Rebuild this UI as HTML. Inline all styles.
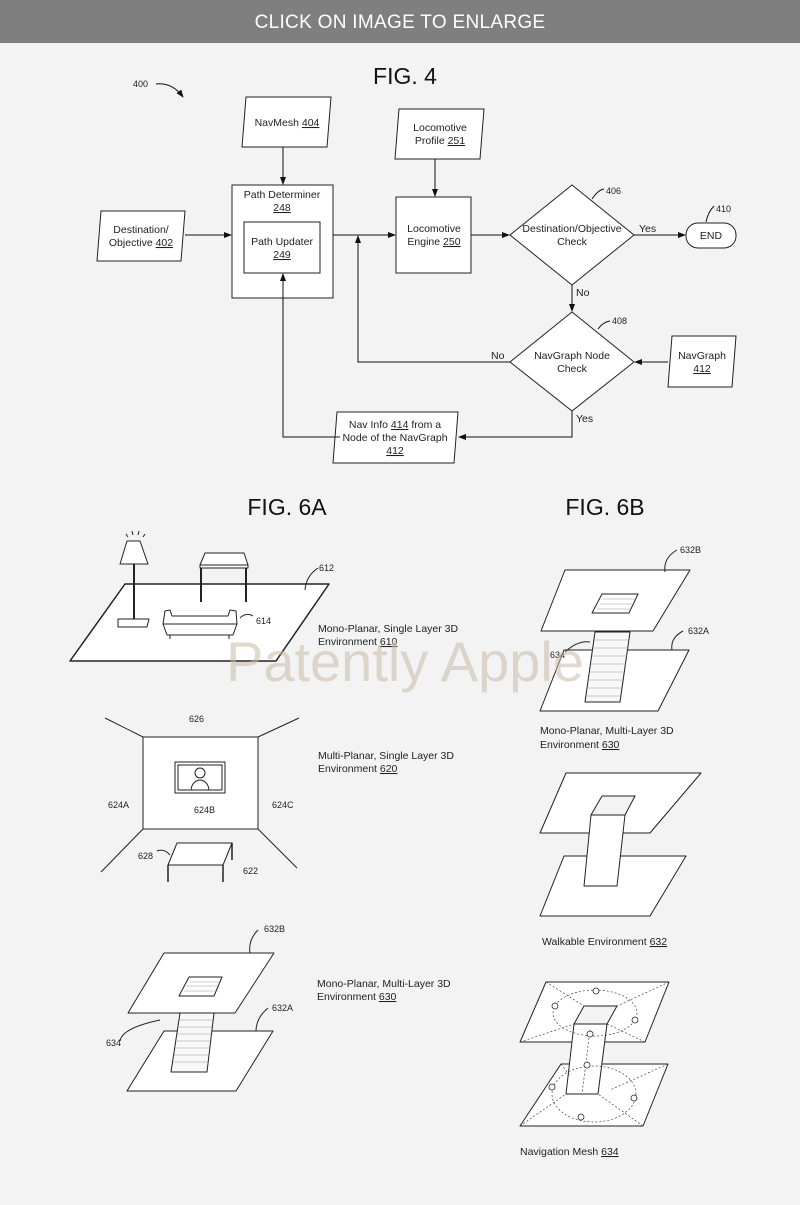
<!DOCTYPE html>
<html><head><meta charset="utf-8"><style>
html,body{margin:0;padding:0;background:#f3f3f3}
svg{display:block}
text{font-family:"Liberation Sans",Arial,sans-serif;fill:#222}
.l{font-size:10.5px}
.s{font-size:9px}
.f{font-size:23px;fill:#111}
</style></head><body>
<svg width="800" height="1205" viewBox="0 0 800 1205" xmlns="http://www.w3.org/2000/svg">
<defs>
<marker id="a" markerWidth="8" markerHeight="8" refX="7" refY="4" orient="auto" markerUnits="userSpaceOnUse"><path d="M0,1 L8,4 L0,7 Z" fill="#111"/></marker>
</defs>
<rect x="0" y="0" width="800" height="1205" fill="#f3f3f3"/>
<rect x="0" y="0" width="800" height="43" fill="#7f7f7f"/>
<text x="400" y="28" text-anchor="middle" style="font-size:19px;fill:#fff;letter-spacing:0.3px">CLICK ON IMAGE TO ENLARGE</text>

<!-- FIG 4 -->
<text x="405" y="84" text-anchor="middle" class="f">FIG. 4</text>
<text x="133" y="87" class="s">400</text>
<path d="M156,84 Q172,82 183,97" fill="none" stroke="#111" stroke-width="1" marker-end="url(#a)"/>

<g stroke="#222" stroke-width="1" fill="#fff">
<polygon points="246,97 331,97 327,147 242,147"/>
<polygon points="399,109 484,109 480,159 395,159"/>
<polygon points="101,211 185,211 181,261 97,261"/>
<polygon points="672,336 736,336 732,387 668,387"/>
<polygon points="337,412 458,412 454,463 333,463"/>
<rect x="232" y="185" width="101" height="113"/>
<rect x="244" y="222" width="76" height="51"/>
<rect x="396" y="197" width="75" height="76"/>
<polygon points="572,185 634,235 572,285 510,235"/>
<polygon points="572,312 634,362 572,411 510,362"/>
<rect x="686" y="223" width="50" height="25" rx="12"/>
</g>
<g fill="none" stroke="#111" stroke-width="1">
<line x1="283" y1="147" x2="283" y2="184" marker-end="url(#a)"/>
<line x1="435" y1="159" x2="435" y2="196" marker-end="url(#a)"/>
<line x1="185" y1="235" x2="231" y2="235" marker-end="url(#a)"/>
<line x1="333" y1="235" x2="395" y2="235" marker-end="url(#a)"/>
<line x1="471" y1="235" x2="509" y2="235" marker-end="url(#a)"/>
<line x1="634" y1="235" x2="685" y2="235" marker-end="url(#a)"/>
<line x1="572" y1="285" x2="572" y2="311" marker-end="url(#a)"/>
<polyline points="510,362 358,362 358,236" marker-end="url(#a)"/>
<line x1="668" y1="362" x2="635" y2="362" marker-end="url(#a)"/>
<polyline points="572,411 572,437 459,437" marker-end="url(#a)"/>
<polyline points="340,437 283,437 283,274" marker-end="url(#a)"/>
<path d="M592,199 Q598,190 604,189"/>
<path d="M706,222 Q708,212 714,206"/>
<path d="M598,329 Q603,322 610,321"/>
</g>
<g class="l" text-anchor="middle">
<text x="287" y="126">NavMesh <tspan text-decoration="underline">404</tspan></text>
<text x="440" y="131">Locomotive</text>
<text x="440" y="144">Profile <tspan text-decoration="underline">251</tspan></text>
<text x="141" y="233">Destination/</text>
<text x="141" y="246">Objective <tspan text-decoration="underline">402</tspan></text>
<text x="282" y="198">Path Determiner</text>
<text x="282" y="211" text-decoration="underline">248</text>
<text x="282" y="245">Path Updater</text>
<text x="282" y="258" text-decoration="underline">249</text>
<text x="434" y="232">Locomotive</text>
<text x="434" y="245">Engine <tspan text-decoration="underline">250</tspan></text>
<text x="572" y="232">Destination/Objective</text>
<text x="572" y="245">Check</text>
<text x="711" y="239">END</text>
<text x="572" y="359">NavGraph Node</text>
<text x="572" y="372">Check</text>
<text x="702" y="359">NavGraph</text>
<text x="702" y="372" text-decoration="underline">412</text>
<text x="395" y="428">Nav Info <tspan text-decoration="underline">414</tspan> from a</text>
<text x="395" y="441">Node of the NavGraph</text>
<text x="395" y="454" text-decoration="underline">412</text>
</g>
<g class="l">
<text x="639" y="232">Yes</text>
<text x="576" y="296">No</text>
<text x="491" y="359">No</text>
<text x="576" y="422">Yes</text>
</g>
<g class="s">
<text x="606" y="194">406</text>
<text x="716" y="212">410</text>
<text x="612" y="324">408</text>
</g>

<!-- FIG 6A / 6B titles -->
<text x="287" y="515" text-anchor="middle" class="f">FIG. 6A</text>
<text x="605" y="515" text-anchor="middle" class="f">FIG. 6B</text>

<g stroke="#222" stroke-width="1" fill="#fff" stroke-linejoin="round">
<!-- 610 -->
<polygon points="125,584 329,584 276,661 70,661" stroke-width="1.5"/>
<line x1="134" y1="563" x2="134" y2="619" stroke-width="2"/>
<polygon points="127,541 140,541 148,564 120,564"/>
<path d="M118,619 L149,619 L147,627 L118,627 Z"/>
<path d="M200,565 L205,553 L244,553 L248,565 Z"/>
<rect x="200" y="565" width="48" height="3"/>
<line x1="201" y1="568" x2="201" y2="602" stroke-width="2"/>
<line x1="246" y1="568" x2="246" y2="602" stroke-width="2"/>
<path d="M165,611 L170,610 L172,616 L228,616 L230,610 L236,611 L237,624 L233,635 L167,635 L163,624 Z"/>
<line x1="163" y1="624" x2="237" y2="624"/>
<line x1="170" y1="635" x2="170" y2="639"/><line x1="229" y1="635" x2="229" y2="639"/>
<!-- 620 -->
<rect x="143" y="737" width="115" height="92"/>
<rect x="175" y="762" width="50" height="31"/>
<rect x="178" y="765" width="44" height="25"/>
<!-- table 628 -->
<polygon points="177,843 232,843 223,865 168,865"/>
<line x1="168" y1="865" x2="168" y2="882" stroke-width="1.5"/>
<line x1="223" y1="865" x2="223" y2="882" stroke-width="1.5"/>
<line x1="232" y1="843" x2="232" y2="860" stroke-width="1.5"/>
<!-- 6A bottom 630 -->
<polygon points="164,1031 273,1031 236,1091 127,1091"/>
<polygon points="180,1013 214,1013 207,1072 171,1072" fill="#f8f8f8"/>
<polygon points="164,953 274,953 235,1013 128,1013"/>
<polygon points="189,977 222,977 214,996 179,996"/>
<!-- 6B top 630 -->
<polygon points="564,650 689,650 658,711 540,711"/>
<polygon points="595,632 630,632 620,702 585,702" fill="#f8f8f8"/>
<polygon points="565,570 690,570 653,631 541,631"/>
<polygon points="602,594 638,594 629,613 592,613"/>
<!-- walkable -->
<polygon points="564,856 686,856 650,916 540,916"/>
<polygon points="566,773 701,773 650,833 540,833"/>
<polygon points="602,796 635,796 625,815 591,815" fill="#f3f3f3"/>
<polygon points="591,815 625,815 617,886 584,886"/>
<!-- nav mesh -->
<polygon points="561,1064 668,1064 643,1126 520,1126"/>
<polygon points="546,982 669,982 645,1042 520,1042"/>
<polygon points="584,1006 617,1006 607,1024 574,1024" fill="#f3f3f3"/>
<polygon points="574,1024 607,1024 598,1094 566,1094"/>
</g>
<!-- stair lines -->
<g stroke="#999" stroke-width="0.6">
<line x1="190" y1="982" x2="220" y2="982"/><line x1="186" y1="986" x2="218" y2="986"/><line x1="184" y1="991" x2="216" y2="991"/>
<line x1="179" y1="1020" x2="213" y2="1020"/><line x1="178" y1="1027" x2="212" y2="1027"/><line x1="177" y1="1034" x2="211" y2="1034"/><line x1="176" y1="1041" x2="210" y2="1041"/><line x1="175" y1="1048" x2="209" y2="1048"/><line x1="174" y1="1055" x2="208" y2="1055"/><line x1="173" y1="1062" x2="208" y2="1062"/>
<line x1="603" y1="599" x2="636" y2="599"/><line x1="600" y1="604" x2="634" y2="604"/><line x1="597" y1="609" x2="631" y2="609"/>
<line x1="594" y1="640" x2="629" y2="640"/><line x1="593" y1="648" x2="628" y2="648"/><line x1="592" y1="656" x2="627" y2="656"/><line x1="591" y1="664" x2="626" y2="664"/><line x1="590" y1="672" x2="624" y2="672"/><line x1="588" y1="680" x2="623" y2="680"/><line x1="587" y1="688" x2="622" y2="688"/><line x1="586" y1="696" x2="621" y2="696"/>
</g>
<g fill="none" stroke="#222" stroke-width="1">
<!-- lamp rays -->
<path d="M128,537 l-2,-3 M133,535 l-1,-4 M138,535 l1,-4 M143,537 l2,-3"/>
<!-- room perspective lines -->
<line x1="105" y1="718" x2="143" y2="737"/><line x1="299" y1="718" x2="258" y2="737"/>
<line x1="143" y1="829" x2="101" y2="872"/><line x1="258" y1="829" x2="297" y2="868"/>
<!-- face -->
<circle cx="200" cy="773" r="5"/><path d="M191,790 Q192,781 200,780 Q208,781 209,790"/>
<!-- leaders -->
<path d="M305,590 Q306,576 318,568"/>
<path d="M240,618 Q246,612 253,616"/>
<path d="M157,851 Q164,848 170,855"/>
<path d="M250,953 Q248,940 258,930"/>
<path d="M256,1031 Q256,1018 268,1008"/>
<path d="M120,1041 Q122,1028 160,1020"/>
<path d="M665,572 Q663,558 677,550"/>
<path d="M672,650 Q670,638 683,631"/>
<path d="M565,652 Q578,640 590,642"/>
</g>
<!-- nav mesh dotted -->
<g fill="none" stroke="#444" stroke-width="0.7" stroke-dasharray="2,2">
<ellipse cx="595" cy="1013" rx="42" ry="23"/>
<ellipse cx="594" cy="1094" rx="42" ry="28"/>
<line x1="546" y1="982" x2="584" y2="1006"/><line x1="669" y1="982" x2="617" y2="1006"/>
<line x1="645" y1="1042" x2="607" y2="1024"/><line x1="520" y1="1042" x2="574" y2="1024"/>
<line x1="561" y1="1064" x2="570" y2="1076"/><line x1="668" y1="1064" x2="610" y2="1090"/>
<line x1="643" y1="1126" x2="598" y2="1094"/><line x1="520" y1="1126" x2="566" y2="1094"/>
<line x1="590" y1="1030" x2="582" y2="1094"/>
</g>
<g fill="#fff" stroke="#222" stroke-width="0.8">
<circle cx="596" cy="991" r="3"/><circle cx="555" cy="1006" r="3"/><circle cx="635" cy="1020" r="3"/><circle cx="590" cy="1034" r="3"/>
<circle cx="587" cy="1065" r="3"/><circle cx="552" cy="1087" r="3"/><circle cx="634" cy="1098" r="3"/><circle cx="581" cy="1117" r="3"/>
</g>

<g class="s">
<text x="319" y="571">612</text>
<text x="256" y="624">614</text>
<text x="189" y="722">626</text>
<text x="108" y="808">624A</text>
<text x="194" y="813">624B</text>
<text x="272" y="808">624C</text>
<text x="138" y="859">628</text>
<text x="243" y="874">622</text>
<text x="264" y="932">632B</text>
<text x="272" y="1011">632A</text>
<text x="106" y="1046">634</text>
<text x="680" y="553">632B</text>
<text x="688" y="634">632A</text>
<text x="550" y="658">634</text>
</g>
<g class="l">
<text x="318" y="632">Mono-Planar, Single Layer 3D</text>
<text x="318" y="645">Environment <tspan text-decoration="underline">610</tspan></text>
<text x="318" y="759">Multi-Planar, Single Layer 3D</text>
<text x="318" y="772">Environment <tspan text-decoration="underline">620</tspan></text>
<text x="317" y="987">Mono-Planar, Multi-Layer 3D</text>
<text x="317" y="1000">Environment <tspan text-decoration="underline">630</tspan></text>
<text x="540" y="734">Mono-Planar, Multi-Layer 3D</text>
<text x="540" y="748">Environment <tspan text-decoration="underline">630</tspan></text>
<text x="542" y="945">Walkable Environment <tspan text-decoration="underline">632</tspan></text>
<text x="520" y="1155">Navigation Mesh <tspan text-decoration="underline">634</tspan></text>
</g>
<text x="405" y="681" text-anchor="middle" style="font-size:56px;fill:rgba(200,186,165,0.55);font-weight:300">Patently Apple</text>
</svg>
</body></html>
